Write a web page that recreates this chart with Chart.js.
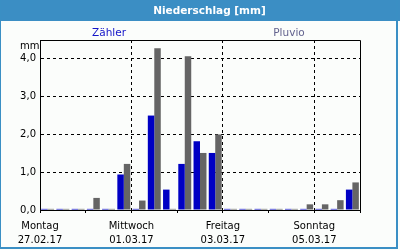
<!DOCTYPE html>
<html>
<head>
<meta charset="utf-8">
<script src="https://cdn.jsdelivr.net/npm/chart.js@4/dist/chart.umd.min.js"></script>
<style>
  html, body { margin: 0; padding: 0; background: #fbfdfb; }
  #wrap { position: relative; width: 400px; height: 250px; overflow: hidden; background: #fbfdfb; font-family: "DejaVu Sans", sans-serif; }
  #frame { position: absolute; left: 0; top: 0; width: 398px; height: 249px; border-left: 1px solid #3a8fc4; border-right: 2px solid #3a8fc4; border-bottom: 2px solid #3a8fc4; box-sizing: border-box; pointer-events: none; }
  #titlebar { position: absolute; left: 0; top: 0; width: 400px; height: 21px; background: #3b8ec4; }
  #title { position: absolute; left: 0; top: 0; width: 419px; height: 21px; line-height: 21px; text-align: center; color: #fff; font-weight: bold; font-size: 10.5px; }
  .leg { position: absolute; top: 25px; font-size: 10.5px; line-height: 14px; width: 100px; text-align: center; }
  #leg1 { left: 59px; color: #1414c8; }
  #leg2 { left: 239px; color: #62628e; }
  #unit { position: absolute; left: 20px; top: 39px; font-size: 10px; line-height: 14px; color: #000; }
  canvas { position: absolute; left: 0; top: 0; }
</style>
</head>
<body>
<div id="wrap">
  <canvas id="c" width="400" height="250"></canvas>
  <div id="titlebar"></div>
  <div id="title">Niederschlag [mm]</div>
  <div class="leg" id="leg1">Zähler</div>
  <div class="leg" id="leg2">Pluvio</div>
  <div id="unit">mm</div>
  <div id="frame"></div>
</div>
<script>
// 8-hour intervals, Mon 27.02.17 00:00 .. Sun 05.03.17 24:00
const categories = [
  '27.02. 00h','27.02. 08h','27.02. 16h',
  '28.02. 00h','28.02. 08h','28.02. 16h',
  '01.03. 00h','01.03. 08h','01.03. 16h',
  '02.03. 00h','02.03. 08h','02.03. 16h',
  '03.03. 00h','03.03. 08h','03.03. 16h',
  '04.03. 00h','04.03. 08h','04.03. 16h',
  '05.03. 00h','05.03. 08h','05.03. 16h'
];
const zaehler = [0.03,0.03,0.03, 0.03,0.03,0.94, 0.03,2.50,0.54, 1.22,1.82,1.51, 0.03,0.03,0.03, 0.03,0.03,0.03, 0.03,0.03,0.54];
const pluvio  = [0.03,0.03,0.03, 0.32,0.03,1.22, 0.25,4.28,0.03, 4.07,1.51,2.00, 0.03,0.03,0.03, 0.03,0.03,0.15, 0.15,0.26,0.73];
const dayTickLabels = [['Montag','27.02.17'], '', ['Mittwoch','01.03.17'], '', ['Freitag','03.03.17'], '', ['Sonntag','05.03.17'], ''];
const yTickValues = [0, 1, 2, 3, 4];

Chart.defaults.font.family = 'DejaVu Sans';
Chart.defaults.font.size = 10;
Chart.defaults.color = '#000';

const framePlugin = {
  id: 'frame',
  afterDatasetsDraw(chart) {
    const a = chart.chartArea, ctx = chart.ctx;
    ctx.save();
    ctx.strokeStyle = '#000';
    ctx.lineWidth = 1;
    ctx.beginPath();
    ctx.moveTo(Math.round(a.left) + 0.5, Math.round(a.bottom) + 0.5);
    ctx.lineTo(Math.round(a.left) + 0.5, Math.round(a.top) + 0.5);
    ctx.lineTo(Math.round(a.right) + 0.5, Math.round(a.top) + 0.5);
    ctx.lineTo(Math.round(a.right) + 0.5, Math.round(a.bottom) + 0.5);
    ctx.lineTo(Math.round(a.left) + 0.5, Math.round(a.bottom) + 0.5);
    ctx.stroke();
    ctx.restore();
  }
};

new Chart(document.getElementById('c'), {
  type: 'bar',
  data: {
    labels: categories,
    datasets: [
      { label: 'Zähler', data: zaehler, backgroundColor: '#0000c4', xAxisID: 'x', yAxisID: 'y' },
      { label: 'Pluvio', data: pluvio, backgroundColor: '#656565', xAxisID: 'x', yAxisID: 'y' }
    ]
  },
  options: {
    responsive: false,
    animation: false,
    devicePixelRatio: 1,
    layout: { padding: { left: 0, right: 40, top: 40, bottom: 0 } },
    datasets: { bar: { categoryPercentage: 0.85, barPercentage: 1.0 } },
    plugins: { legend: { display: false }, tooltip: { enabled: false }, title: { display: false } },
    scales: {
      x: {
        type: 'category',
        display: false,
        offset: true
      },
      x2: {
        type: 'linear',
        position: 'bottom',
        min: 0,
        max: 7,
        offset: false,
        afterBuildTicks(scale) {
          scale.ticks = dayTickLabels.map((l, i) => ({ value: i }));
        },
        afterFit(scale) { scale.height = 40; },
        ticks: {
          autoSkip: false,
          maxRotation: 0,
          padding: 6,
          font: { size: 10, lineHeight: 1.45 },
          callback: (v) => dayTickLabels[v]
        },
        grid: {
          offset: false,
          drawOnChartArea: true,
          color: (ctx) => (ctx.tick && ctx.tick.value % 2 === 0 && ctx.tick.value > 0 && ctx.tick.value < 7) ? '#000' : 'rgba(0,0,0,0)',
          tickColor: '#000',
          tickLength: 3,
          lineWidth: 1
        },
        border: { display: true, color: '#000', width: 1, dash: [3, 3] }
      },
      y: {
        type: 'linear',
        min: 0,
        max: 4.5,
        afterBuildTicks(scale) {
          scale.ticks = yTickValues.map(v => ({ value: v }));
        },
        afterFit(scale) { scale.width = 40; },
        ticks: {
          padding: 4,
          callback: (v) => v.toFixed(1).replace('.', ',')
        },
        grid: {
          drawTicks: false,
          color: (ctx) => (ctx.tick && ctx.tick.value > 0) ? '#000' : 'rgba(0,0,0,0)',
          lineWidth: 1
        },
        border: { display: true, color: '#000', width: 1, dash: [3, 3] }
      }
    }
  },
  plugins: [framePlugin]
});
</script>
</body>
</html>
